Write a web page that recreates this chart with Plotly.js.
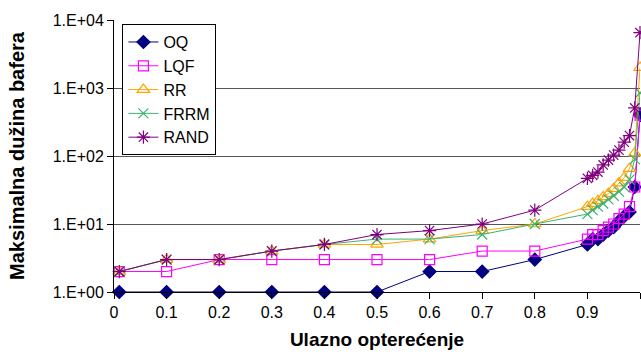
<!DOCTYPE html>
<html>
<head>
<meta charset="utf-8">
<script src="https://cdn.plot.ly/plotly-3.0.1.min.js"></script>
<style>html,body{margin:0;padding:0;background:#fff;}#chart{width:641px;height:354px;}</style>
</head>
<body>
<div id="chart"></div>
<script>
const load = [0.01,0.1,0.2,0.3,0.4,0.5,0.6,0.7,0.8,0.9,0.91,0.92,0.93,0.94,0.95,0.96,0.97,0.98,0.99,1.0];
const OQ   = [1,1,1,1,1,1,2,2,3,5,6,6,7,8,9,11,13,15,35,400];
const LQF  = [2,2,3,3,3,3,3,4,4,6,7,7,8,9,10,12,14,18,35,400];
const RR   = [2,3,3,4,5,5,6,8,10,18,20,22,25,28,33,40,48,65,110,2000];
const FRRM = [2,3,3,4,5,6,6,7,10,14,16,18,20,23,26,30,35,45,90,850];
const RAND = [2,3,3,4,5,7,8,10,16,47,52,58,74,87,103,122,160,200,510,6500];
const yTickVals = [1,10,100,1000,10000];
const yTickText = ["1.E+00","1.E+01","1.E+02","1.E+03","1.E+04"];
const xTickVals = [0,0.1,0.2,0.3,0.4,0.5,0.6,0.7,0.8,0.9,1];
const xTickText = ["0","0.1","0.2","0.3","0.4","0.5","0.6","0.7","0.8","0.9","1"];

const series = [
  {name:"OQ", y:OQ, color:"#000080", symbol:"diamond", size:10},
  {name:"LQF", y:LQF, color:"#FF00FF", symbol:"square-open", size:10},
  {name:"RR", y:RR, color:"#FFA500", symbol:"triangle-up-open", size:11},
  {name:"FRRM", y:FRRM, color:"#3CB371", symbol:"x-thin-open", size:10},
  {name:"RAND", y:RAND, color:"#800080", symbol:"asterisk-open", size:11}
];
const traces = series.map((s,i) => ({
  type:"scatter", mode:"lines+markers", name:s.name, x:load, y:s.y,
  legendgroup:"g"+i,
  line:{color:s.color, width:1},
  marker:{symbol:s.symbol, size:s.size, color:s.color, line:{color:s.color, width:1.2}},
  cliponaxis:false
}));

const font = "Arial, 'Liberation Sans', sans-serif";
const layout = {
  width:641, height:354,
  margin:{l:114, r:1, t:20, b:62},
  paper_bgcolor:"#fff", plot_bgcolor:"#fff",
  font:{family:font, size:16, color:"#000"},
  showlegend:true,
  legend:{x:0.016, y:0.985, xanchor:"left", yanchor:"top", bgcolor:"#fff",
          bordercolor:"#000", borderwidth:1, font:{family:font, size:16, color:"#000"},
          tracegroupgap:0, itemwidth:30},
  xaxis:{range:[0,1], tickvals:xTickVals, ticktext:xTickText, showgrid:false, zeroline:false,
         showline:true, linecolor:"#000", linewidth:1, ticks:"outside", ticklen:6, tickcolor:"#000",
         tickfont:{family:font, size:16},
         title:{text:"Ulazno opterećenje", font:{family:font, size:19, weight:"bold"}, standoff:12}},
  yaxis:{type:"log", range:[0,4], tickvals:yTickVals, ticktext:yTickText, showgrid:true,
         gridcolor:"#555", gridwidth:1, zeroline:false,
         showline:true, linecolor:"#000", linewidth:1, ticks:"outside", ticklen:6, tickcolor:"#000",
         tickfont:{family:font, size:16},
         title:{text:"Maksimalna dužina bafera", font:{family:font, size:20, weight:"bold"}, standoff:22}}
};
Plotly.newPlot("chart", traces, layout, {displayModeBar:false, staticPlot:true});
</script>
</body>
</html>
